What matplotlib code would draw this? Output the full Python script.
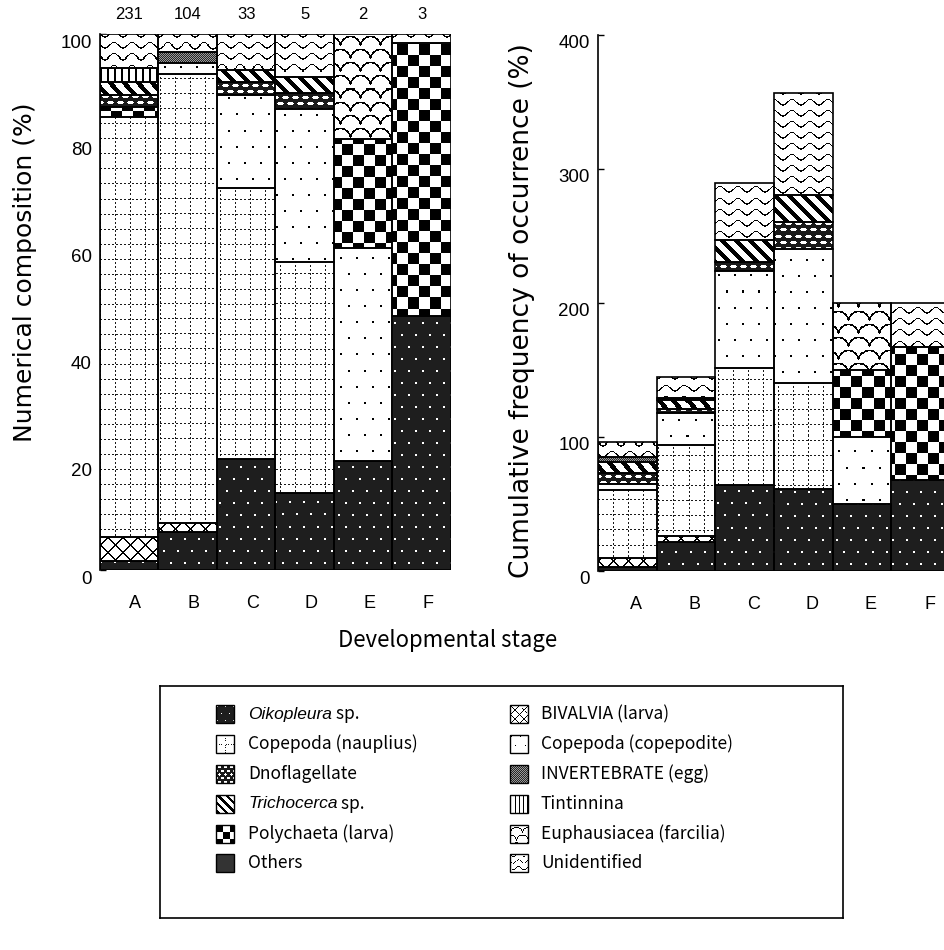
import numpy as np
import matplotlib
matplotlib.use('Agg')
import matplotlib.pyplot as plt
import matplotlib.transforms as mtransforms
from matplotlib.patches import Rectangle

plt.rcParams['font.family'] = ['Liberation Sans', 'DejaVu Sans']

stages = ['A', 'B', 'C', 'D', 'E', 'F']
n_fish = ['231', '104', '33', '5', '2', '3']

# Numerical composition (%) - height of each stacked segment, stages A..F
num_oikopleura = [1.7, 7.0, 20.7, 14.4, 20.3, 47.3]
num_bivalvia = [4.4, 1.7, 0, 0, 0, 0]
num_nauplius = [78.5, 83.8, 50.5, 43.1, 0, 0]
num_copepodite = [0, 2.0, 17.5, 28.6, 39.8, 0]
num_polychaeta = [1.7, 0, 0, 0, 20.3, 51.0]
num_dnoflag = [2.3, 0, 2.4, 2.9, 0, 0]
num_trichocerca = [2.5, 0, 2.1, 2.9, 0, 0]
num_egg = [0, 2.1, 0, 0, 0, 0]
num_tintinnina = [2.5, 0, 0, 0, 0, 0]
num_euphausiacea = [0, 0, 0, 0, 19.6, 0]
num_others = [0, 0, 0, 0, 0, 0]
num_unidentified = [6.4, 3.4, 6.8, 8.1, 0, 1.7]

# Cumulative frequency of occurrence (%)
freq_oikopleura = [3.2, 21.9, 64.2, 61.0, 50.0, 67.9]
freq_bivalvia = [6.3, 4.4, 0, 0, 0, 0]
freq_nauplius = [50.9, 67.7, 87.5, 79.5, 0, 0]
freq_copepodite = [4.5, 23.7, 72.4, 99.6, 50.2, 0]
freq_polychaeta = [0, 0, 0, 0, 49.8, 99.0]
freq_dnoflag = [8.0, 3.0, 6.7, 20.6, 0, 0]
freq_trichocerca = [8.7, 6.9, 16.2, 19.9, 0, 0]
freq_egg = [3.7, 1.7, 0, 0, 0, 0]
freq_tintinnina = [0, 0, 0, 0, 0, 0]
freq_euphausiacea = [0, 0, 0, 0, 50.0, 0]
freq_others = [0, 0, 0, 0, 0, 0]
freq_unidentified = [11.2, 15.7, 42.8, 75.9, 0, 33.1]

# stacking order bottom -> top
stack_order = ['oik', 'biv', 'naup', 'cope', 'poly', 'dino', 'trich', 'egg', 'tint', 'euph', 'others', 'unid']

num_data = {'oik': num_oikopleura, 'biv': num_bivalvia, 'naup': num_nauplius,
            'cope': num_copepodite, 'poly': num_polychaeta, 'dino': num_dnoflag,
            'trich': num_trichocerca, 'egg': num_egg, 'tint': num_tintinnina,
            'euph': num_euphausiacea, 'others': num_others, 'unid': num_unidentified}
freq_data = {'oik': freq_oikopleura, 'biv': freq_bivalvia, 'naup': freq_nauplius,
             'cope': freq_copepodite, 'poly': freq_polychaeta, 'dino': freq_dnoflag,
             'trich': freq_trichocerca, 'egg': freq_egg, 'tint': freq_tintinnina,
             'euph': freq_euphausiacea, 'others': freq_others, 'unid': freq_unidentified}

legend_col1 = [('oik', 'Oikopleura', ' sp.'), ('naup', '', 'Copepoda (nauplius)'),
               ('dino', '', 'Dnoflagellate'), ('trich', 'Trichocerca', ' sp.'),
               ('poly', '', 'Polychaeta (larva)'), ('others', '', 'Others')]
legend_col2 = [('biv', '', 'BIVALVIA (larva)'), ('cope', '', 'Copepoda (copepodite)'),
               ('egg', '', 'INVERTEBRATE (egg)'), ('tint', '', 'Tintinnina'),
               ('euph', '', 'Euphausiacea (farcilia)'), ('unid', '', 'Unidentified')]


#fill patterns of the old printed figure, drawn as grey-level images
def texture(kind, h, w, k=1.0):
    i, j = np.mgrid[0:h, 0:w].astype(float)
    u = i / k
    v = j / k
    a = np.ones((h, w))
    if kind == 'oik':
        a[:] = 0.12
        r = np.floor(u / 12)
        vv = (v + (r % 2) * 7) % 14
        a[((u % 12) < 2) & (vv < 2)] = 1.0
    elif kind == 'naup':
        grid = (((u % 15) < 1) & ((v % 4) < 1.2)) | (((v % 15) < 1) & ((u % 4) < 1.2))
        a[grid] = 0.1
    elif kind == 'dino':
        a[:] = 0.1
        r = np.floor(u / 6)
        x = (v + (r % 2) * 5) % 10 - 5
        y = u % 6 - 3
        a[(x / 3.2) ** 2 + (y / 1.7) ** 2 < 1] = 1.0
    elif kind == 'trich':
        a[((v - u) % 14) < 5.5] = 0.0
    elif kind == 'poly':
        a[(np.floor(u / 11) + np.floor(v / 11)) % 2 == 0] = 0.0
    elif kind == 'others':
        a[:] = 0.2
    elif kind == 'biv':
        a[(((u + v) % 15) < 1.5) | (((u - v) % 15) < 1.5)] = 0.0
    elif kind == 'cope':
        r = np.floor(u / 16)
        vv = (v + (r % 2) * 8) % 16
        a[((u % 16) < 1.8) & (vv < 1.8)] = 0.0
    elif kind == 'egg':
        a = 0.15 + 0.45 * ((i + j) % 2)
    elif kind == 'tint':
        a[(v % 7) < 1.6] = 0.0
    elif kind == 'euph':
        ch, cw = 13.0, 20.0
        r = np.floor(u / ch)
        x = (v + (r % 2) * cw / 2) % cw - cw / 2
        y = u % ch
        d = np.sqrt(x ** 2 + (y - ch) ** 2)
        a[np.abs(d - cw / 2) < 0.8] = 0.0
    elif kind == 'unid':
        off = 2.8 * np.sin(2 * np.pi * v / 18.0)
        a[((u - off) % 11) < 1.3] = 0.0
    return a


def draw_stack(ax, data, ymax):
    ax.set_xlim(-0.5, 5.5)
    ax.set_ylim(0, ymax)
    bb = ax.get_window_extent()
    h_px, w_px = int(round(bb.height)), int(round(bb.width))
    cache = {}
    x = np.arange(len(stages))
    bottom = np.zeros(len(stages))
    for kind in stack_order:
        vals = np.array(data[kind], dtype=float)
        bars = ax.bar(x, vals, bottom=bottom, width=1.0, fill=False,
                      edgecolor='black', linewidth=1.2, zorder=3)
        for b, v in zip(bars, vals):
            if v <= 0:
                b.set_visible(False)
                continue
            if kind not in cache:
                cache[kind] = texture(kind, h_px, w_px)
            im = ax.imshow(cache[kind], cmap='gray', vmin=0, vmax=1,
                           extent=(-0.5, 5.5, 0, ymax), aspect='auto',
                           interpolation='nearest', zorder=2)
            im.set_clip_path(b)
        bottom += vals
    ax.set_xlim(-0.5, 5.5)
    ax.set_ylim(0, ymax)
    for s in ['top', 'right', 'bottom']:
        ax.spines[s].set_visible(False)
    ax.spines['left'].set_linewidth(1.2)
    ax.set_xticks(x)
    ax.set_xticklabels(stages)
    ax.tick_params(axis='x', length=0, pad=18, labelsize=13)
    ax.tick_params(axis='y', direction='in', length=4, width=1, labelsize=13.5, pad=6)


W, H = 945, 950
fig = plt.figure(figsize=(W / 100, H / 100), dpi=100)

ax1 = fig.add_axes([100 / W, (H - 570) / H, 351 / W, 536 / H])
draw_stack(ax1, num_data, 100)
ax1.set_yticks([0, 20, 40, 60, 80, 100])
for xi, s in enumerate(n_fish):
    ax1.annotate(s, (xi, 100), xytext=(0, 12), textcoords='offset pixels',
                 ha='center', va='bottom', fontsize=12)

ax2 = fig.add_axes([598 / W, (H - 571) / H, 352 / W, 536 / H])
draw_stack(ax2, freq_data, 400)
ax2.set_yticks([0, 100, 200, 300, 400])

# tick labels sit a little lower / to the right in the original
down = mtransforms.ScaledTranslation(0, -0.07, fig.dpi_scale_trans)
for ax, dx in [(ax1, 0.06), (ax2, 0.09)]:
    for lab in ax.get_yticklabels():
        lab.set_transform(lab.get_transform() + down)
    right = mtransforms.ScaledTranslation(dx, 0, fig.dpi_scale_trans)
    for lab in ax.get_xticklabels():
        lab.set_transform(lab.get_transform() + right)

fig.text(25 / W, 1 - 272 / H, 'Numerical composition (%)', rotation=90,
         ha='center', va='center', fontsize=18, family='DejaVu Sans')
fig.text(522 / W, 1 - 311 / H, 'Cumulative frequency of occurrence (%)', rotation=90,
         ha='center', va='center', fontsize=19, family='DejaVu Sans')
fig.text(448 / W, 1 - 641 / H, 'Developmental stage', ha='center', va='center',
         fontsize=16, family=['Noto Sans CJK JP', 'DejaVu Sans'])

# legend box
lax = fig.add_axes([160 / W, (H - 918) / H, 683 / W, 232 / H])
lax.set_xlim(0, 683)
lax.set_ylim(232, 0)
lax.set_xticks([])
lax.set_yticks([])
for s in lax.spines.values():
    s.set_linewidth(1.2)
row_y = [28, 58, 88, 118, 148, 177]
psize = 18
for col, px, tx in [(legend_col1, 56, 88), (legend_col2, 350, 381)]:
    for (kind, ital, txt), yc in zip(col, row_y):
        y0 = yc - psize / 2
        lax.imshow(texture(kind, psize, psize, k=0.6), cmap='gray', vmin=0, vmax=1,
                   extent=(px, px + psize, y0 + psize, y0), aspect='auto',
                   interpolation='nearest')
        lax.add_patch(Rectangle((px, y0), psize, psize, fill=False,
                                edgecolor='black', linewidth=1))
        if ital:
            t1 = lax.text(tx, yc, ital, style='italic', fontsize=12.5,
                          family='Liberation Sans', va='center', ha='left')
            lax.annotate(txt, xy=(1, 0.5), xycoords=t1, va='center', ha='left',
                         fontsize=12.5, family=['Noto Sans CJK JP', 'DejaVu Sans'])
        else:
            lax.text(tx, yc, txt, fontsize=12.5, va='center', ha='left',
                     family=['Noto Sans CJK JP', 'DejaVu Sans'])
lax.set_xlim(0, 683)
lax.set_ylim(232, 0)

fig.savefig('out.png', dpi=100)
